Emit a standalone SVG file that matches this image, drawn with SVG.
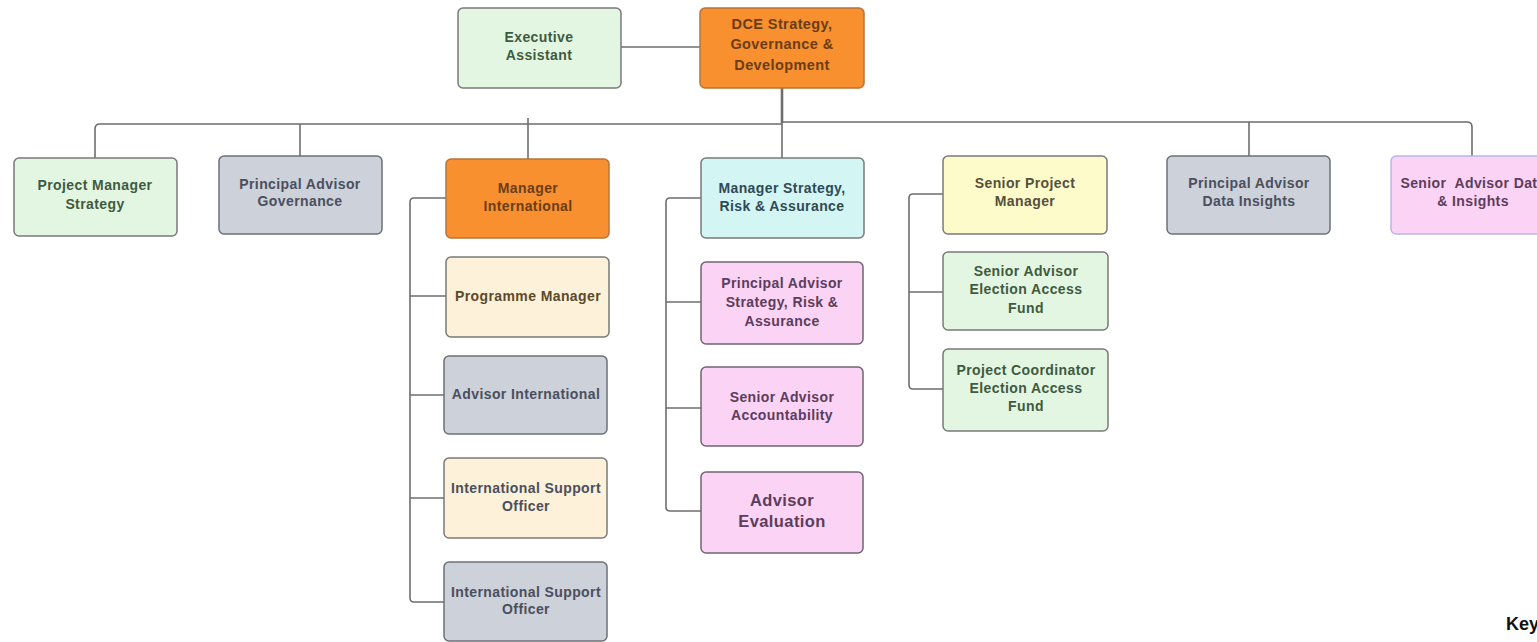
<svg xmlns="http://www.w3.org/2000/svg" width="1537" height="642" viewBox="0 0 1537 642">
  <style>
    .box { stroke: #7a7a7a; stroke-width: 1.5; }
    .orange { fill: #F8902F; stroke: #b8743a; }
    .green { fill: #E3F6E1; }
    .grey { fill: #CDD1D9; stroke: #6d7078; }
    .cream { fill: #FDF1D9; }
    .cyan { fill: #D3F5F4; }
    .yellow { fill: #FDFBC9; }
    .pink { fill: #FBD3F4; stroke: #6f6670; }
    .pinkb { fill: #FBD3F4; stroke: #b9b7ea; }
    text { font-family: "Liberation Sans", Arial, sans-serif; font-weight: bold; font-size: 14px; text-anchor: middle; letter-spacing: 0.4px; }
    text.big { font-size: 16.5px; }
    text.mid { font-size: 14.5px; }
    text.key { font-size: 18px; text-anchor: start; letter-spacing: 0; fill: #111; }
    .t-green { fill: #3f5a40; }
    .t-grey { fill: #4a4f5e; }
    .t-orange { fill: #6b3d16; }
    .t-cream { fill: #5a4a2c; }
    .t-cyan { fill: #2f4a55; }
    .t-yellow { fill: #55503c; }
    .t-pink { fill: #5b3d5c; }
    .conn { fill: none; stroke: #6e6e6e; stroke-width: 1.6; stroke-linejoin: round; }
  </style>

  <!-- connectors -->
  <g id="connectors">
    <path class="conn" d="M621,47 H700"/>
    <path class="conn" d="M782,88 V123" style="stroke-width:2.6"/>
    <path class="conn" d="M782,124 H100 Q95,124 95,129 V158"/>
    <path class="conn" d="M782,122 H1467 Q1472,122 1472,127 V156"/>
    <path class="conn" d="M300,124 V156"/>
    <path class="conn" d="M528,118 V159"/>
    <path class="conn" d="M782,122 V158"/>
    <path class="conn" d="M1249,122 V156"/>
    <!-- Manager International reports -->
    <path class="conn" d="M446,198 H414 Q410,198 410,202 V598 Q410,602 414,602 H444"/>
    <path class="conn" d="M410,296 H446"/>
    <path class="conn" d="M410,395 H444"/>
    <path class="conn" d="M410,498 H444"/>
    <!-- Manager Strategy reports -->
    <path class="conn" d="M701,198 H670 Q666,198 666,202 V507 Q666,511 670,511 H701"/>
    <path class="conn" d="M666,302 H701"/>
    <path class="conn" d="M666,408 H701"/>
    <!-- Senior Project Manager reports -->
    <path class="conn" d="M943,194 H913 Q909,194 909,198 V385 Q909,389 913,389 H943"/>
    <path class="conn" d="M909,292 H943"/>
  </g>

  <g id="executive-assistant">
    <rect class="box green" x="458" y="8" width="163" height="80" rx="5"/>
    <text class="t-green" x="539" y="42">Executive</text>
    <text class="t-green" x="539" y="60">Assistant</text>
  </g>

  <g id="dce">
    <rect class="box orange" x="700" y="8" width="164" height="80" rx="5"/>
    <text class="t-orange mid" x="782" y="29">DCE Strategy,</text>
    <text class="t-orange mid" x="782" y="49">Governance &amp;</text>
    <text class="t-orange mid" x="782" y="70">Development</text>
  </g>

  <g id="project-manager-strategy">
    <rect class="box green" x="14" y="158" width="163" height="78" rx="5"/>
    <text class="t-green" x="95" y="190">Project Manager</text>
    <text class="t-green" x="95" y="209">Strategy</text>
  </g>

  <g id="principal-advisor-governance">
    <rect class="box grey" x="219" y="156" width="163" height="78" rx="5"/>
    <text class="t-grey" x="300" y="189">Principal Advisor</text>
    <text class="t-grey" x="300" y="206">Governance</text>
  </g>

  <g id="manager-international">
    <rect class="box orange" x="446" y="159" width="163" height="79" rx="5"/>
    <text class="t-orange" x="528" y="193">Manager</text>
    <text class="t-orange" x="528" y="211">International</text>
  </g>

  <g id="manager-strategy">
    <rect class="box cyan" x="701" y="158" width="163" height="80" rx="5"/>
    <text class="t-cyan" x="782" y="193">Manager Strategy,</text>
    <text class="t-cyan" x="782" y="211">Risk &amp; Assurance</text>
  </g>

  <g id="senior-project-manager">
    <rect class="box yellow" x="943" y="156" width="164" height="78" rx="5"/>
    <text class="t-yellow" x="1025" y="188">Senior Project</text>
    <text class="t-yellow" x="1025" y="206">Manager</text>
  </g>

  <g id="principal-advisor-data-insights">
    <rect class="box grey" x="1167" y="156" width="163" height="78" rx="5"/>
    <text class="t-grey" x="1249" y="188">Principal Advisor</text>
    <text class="t-grey" x="1249" y="206">Data Insights</text>
  </g>

  <!-- this box runs past the right edge of the sheet -->
  <g id="senior-advisor-data">
    <rect class="box pinkb" x="1391" y="156" width="163" height="78" rx="5"/>
    <text class="t-pink" x="1473" y="188" xml:space="preserve">Senior  Advisor Data</text>
    <text class="t-pink" x="1473" y="206">&amp; Insights</text>
  </g>

  <g id="programme-manager">
    <rect class="box cream" x="446" y="257" width="163" height="80" rx="5"/>
    <text class="t-cream" x="528" y="301">Programme Manager</text>
  </g>

  <g id="advisor-international">
    <rect class="box grey" x="444" y="356" width="163" height="78" rx="5"/>
    <text class="t-grey" x="526" y="399">Advisor International</text>
  </g>

  <g id="international-support-officer-1">
    <rect class="box cream" x="444" y="458" width="163" height="80" rx="5"/>
    <text class="t-grey" x="526" y="493">International Support</text>
    <text class="t-grey" x="526" y="511">Officer</text>
  </g>

  <g id="international-support-officer-2">
    <rect class="box grey" x="444" y="562" width="163" height="79" rx="5"/>
    <text class="t-grey" x="526" y="597">International Support</text>
    <text class="t-grey" x="526" y="614">Officer</text>
  </g>

  <g id="principal-advisor-sra">
    <rect class="box pink" x="701" y="262" width="162" height="82" rx="5"/>
    <text class="t-pink" x="782" y="288">Principal Advisor</text>
    <text class="t-pink" x="782" y="307">Strategy, Risk &amp;</text>
    <text class="t-pink" x="782" y="326">Assurance</text>
  </g>

  <g id="senior-advisor-accountability">
    <rect class="box pink" x="701" y="367" width="162" height="79" rx="5"/>
    <text class="t-pink" x="782" y="402">Senior Advisor</text>
    <text class="t-pink" x="782" y="420">Accountability</text>
  </g>

  <g id="advisor-evaluation">
    <rect class="box pink" x="701" y="472" width="162" height="81" rx="5"/>
    <text class="t-pink big" x="782" y="506">Advisor</text>
    <text class="t-pink big" x="782" y="527">Evaluation</text>
  </g>

  <g id="senior-advisor-eaf">
    <rect class="box green" x="943" y="252" width="165" height="78" rx="5"/>
    <text class="t-green" x="1026" y="276">Senior Advisor</text>
    <text class="t-green" x="1026" y="294">Election Access</text>
    <text class="t-green" x="1026" y="313">Fund</text>
  </g>

  <g id="project-coordinator-eaf">
    <rect class="box green" x="943" y="349" width="165" height="82" rx="5"/>
    <text class="t-green" x="1026" y="375">Project Coordinator</text>
    <text class="t-green" x="1026" y="393">Election Access</text>
    <text class="t-green" x="1026" y="411">Fund</text>
  </g>

  <text class="key" x="1506" y="630">Key</text>
</svg>
